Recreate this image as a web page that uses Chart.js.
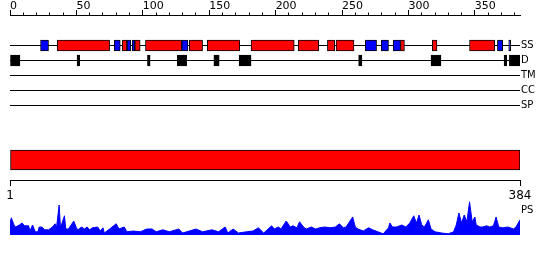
<!DOCTYPE html>
<html>
<head>
<meta charset="utf-8">
<title>Protein features</title>
<script src="https://cdn.jsdelivr.net/npm/chart.js@4"></script>
<style>
  html, body { margin: 0; padding: 0; background: #fff; }
  #features { display: block; }
</style>
</head>
<body>
<canvas id="features" width="550" height="260"></canvas>
<script>
'use strict';

// sequence and tracks
var seqLength = 384;
var tracks = ['SS', 'D', 'TM', 'CC', 'SP'];
var bottomTicks = [1, 384];

// secondary structure (residue ranges)
var helixStart = [35.5, 84.5, 94, 102, 135, 148.5, 181.5, 217, 239, 245.5, 294, 318, 346];
var helixEnd   = [75, 88, 98, 129.3, 145, 173, 214, 232.5, 244.5, 259, 297, 321.5, 365];
var strandStart = [23, 78.5, 88, 92, 129.3, 267.5, 279.5, 288.5, 367, 375.5];
var strandEnd   = [29, 83, 91, 94, 134, 276, 285, 294, 371, 377];

// disorder (residue ranges)
var disorderStart = [0, 50.5, 103.5, 126, 153.5, 172.5, 262.5, 317, 372, 376];
var disorderEnd   = [7.5, 52.5, 105.5, 133, 157.5, 181.5, 265, 324.5, 374, 384];

// PS profile
var psPos = [0, 1, 3, 4, 6, 7, 9, 11, 12, 14,
    15, 17, 19, 21, 22, 24, 26, 29, 32, 34,
    35, 37, 38, 41, 42, 44, 48, 50, 51, 54,
    56, 58, 60, 62, 66, 68, 70, 71, 75, 78,
    80, 82, 86, 88, 93, 98, 103, 107, 110, 115,
    120, 127, 130, 135, 140, 145, 152, 157, 162, 164,
    168, 172, 178, 183, 187, 191, 197, 199, 202, 204,
    208, 211, 213, 216, 218, 221, 223, 227, 230, 233,
    237, 241, 245, 248, 251, 253, 258, 260, 262, 266,
    270, 273, 277, 281, 285, 286, 288, 291, 295, 298,
    301, 304, 306, 308, 310, 312, 315, 317, 320, 325,
    330, 334, 336, 338, 340, 342, 344, 346, 348, 350,
    351, 354, 356, 359, 361, 364, 366, 368, 371, 375,
    379, 381, 384];
var psVal = [0.30, 0.43, 0.25, 0.20, 0.23, 0.25, 0.30, 0.23, 0.23, 0.23,
    0.10, 0.25, 0.08, 0.08, 0.20, 0.20, 0.13, 0.13, 0.20, 0.28,
    0.18, 0.75, 0.18, 0.48, 0.15, 0.15, 0.35, 0.18, 0.13, 0.20,
    0.15, 0.20, 0.13, 0.18, 0.20, 0.10, 0.18, 0.05, 0.15, 0.23,
    0.28, 0.15, 0.20, 0.08, 0.10, 0.08, 0.15, 0.15, 0.08, 0.13,
    0.08, 0.15, 0.05, 0.10, 0.15, 0.08, 0.13, 0.08, 0.20, 0.05,
    0.15, 0.05, 0.08, 0.10, 0.18, 0.05, 0.23, 0.15, 0.20, 0.15,
    0.35, 0.20, 0.23, 0.18, 0.33, 0.20, 0.15, 0.20, 0.15, 0.18,
    0.20, 0.18, 0.20, 0.28, 0.18, 0.20, 0.45, 0.20, 0.15, 0.10,
    0.18, 0.13, 0.08, 0.03, 0.18, 0.30, 0.20, 0.20, 0.25, 0.20,
    0.30, 0.48, 0.30, 0.50, 0.25, 0.20, 0.38, 0.15, 0.08, 0.05,
    0.03, 0.08, 0.25, 0.55, 0.30, 0.50, 0.33, 0.83, 0.33, 0.45,
    0.25, 0.20, 0.20, 0.23, 0.20, 0.23, 0.45, 0.20, 0.18, 0.20,
    0.15, 0.20, 0.38];

var FeatureChart = {
    colors: {
        helix: '#ff0000',
        strand: '#0000ff',
        disorder: '#000000',
        domain: '#ff0000',
        ps: '#0000ff',
        line: '#000000'
    },

    font: 'DejaVu Sans',

    // layout in canvas pixels (y scale maps value == pixel)
    trackY: function(i) { return 45.5 + i * 15; },
    domainY: 160,
    axisY: 180,
    psLabelY: 210,

    init: function() {
        var ctx = document.getElementById('features').getContext('2d');
        new Chart(ctx, {
            type: 'bar',
            data: { datasets: this.buildDatasets() },
            options: this.buildOptions()
        });
    },

    ranges: function(starts, ends, y) {
        return starts.map(function(s, i) {
            return { x: [s, ends[i]], y: y };
        });
    },

    boxes: function(label, data, color, thickness) {
        return {
            type: 'bar',
            label: label,
            indexAxis: 'y',
            xAxisID: 'x',
            yAxisID: 'y',
            data: data,
            backgroundColor: color,
            borderColor: '#000000',
            borderWidth: 1,
            borderSkipped: false,
            barThickness: thickness,
            grouped: false,
            order: 1
        };
    },

    buildDatasets: function() {
        var self = this;
        var sets = tracks.map(function(name, i) {
            var y = self.trackY(i);
            return {
                type: 'line',
                label: name,
                xAxisID: 'x',
                yAxisID: 'y',
                data: [{ x: 0, y: y }, { x: seqLength, y: y }],
                borderColor: self.colors.line,
                borderWidth: 1,
                pointRadius: 0,
                fill: false,
                order: 3
            };
        });

        sets.push(this.boxes('Helix', this.ranges(helixStart, helixEnd, this.trackY(0)), this.colors.helix, 11));
        sets.push(this.boxes('Strand', this.ranges(strandStart, strandEnd, this.trackY(0)), this.colors.strand, 11));
        sets.push(this.boxes('Disorder', this.ranges(disorderStart, disorderEnd, this.trackY(1)), this.colors.disorder, 11));
        sets.push(this.boxes('Sequence', [{ x: [0, seqLength], y: this.domainY }], this.colors.domain, 20));

        sets.push({
            type: 'line',
            label: 'PS',
            xAxisID: 'x',
            yAxisID: 'yPS',
            data: psPos.map(function(p, i) { return { x: p, y: psVal[i] }; }),
            borderColor: this.colors.ps,
            borderWidth: 1,
            backgroundColor: this.colors.ps,
            fill: 'origin',
            pointRadius: 0,
            tension: 0,
            order: 2
        });
        return sets;
    },

    buildOptions: function() {
        var self = this;
        var sideLabels = tracks.concat(['PS']);
        var sideValues = tracks.map(function(t, i) { return self.trackY(i); }).concat([this.psLabelY]);
        var noPad = function(scale) {
            scale.paddingTop = 0;
            scale.paddingBottom = 0;
            scale.paddingLeft = 0;
            scale.paddingRight = 0;
        };

        return {
            responsive: false,
            animation: false,
            events: [],
            layout: { padding: { left: 10, right: 0, top: 0, bottom: 0 } },
            plugins: {
                legend: { display: false },
                tooltip: { enabled: false }
            },
            scales: {
                x: {
                    type: 'linear',
                    position: 'top',
                    offset: false,
                    min: 0,
                    max: seqLength,
                    afterFit: function(scale) { noPad(scale); scale.height = 15; },
                    border: { color: '#000000', width: 1 },
                    grid: {
                        offset: false,
                        drawOnChartArea: false,
                        tickLength: 5,
                        tickColor: '#000000',
                        tickBorderDash: function(c) {
                            return c.tick && c.tick.value % 50 !== 0 ? [0, 2.5, 3, 10] : [];
                        }
                    },
                    ticks: {
                        stepSize: 10,
                        includeBounds: false,
                        autoSkip: false,
                        maxRotation: 0,
                        align: 'start',
                        padding: -3,
                        color: '#000000',
                        font: { family: self.font, size: 11 },
                        callback: function(v) { return v % 50 === 0 ? String(v) : ''; }
                    }
                },
                x2: {
                    type: 'linear',
                    position: { y: self.axisY },
                    offset: false,
                    min: 1,
                    max: seqLength,
                    afterBuildTicks: function(scale) {
                        scale.ticks = bottomTicks.map(function(v) { return { value: v }; });
                    },
                    afterFit: noPad,
                    border: { color: '#000000', width: 1 },
                    grid: { offset: false, drawOnChartArea: false, tickLength: 5, tickColor: '#000000' },
                    ticks: {
                        autoSkip: false,
                        maxRotation: 0,
                        padding: 4,
                        color: '#000000',
                        font: { family: self.font, size: 12 },
                        callback: function(v) { return String(v); }
                    }
                },
                y: {
                    type: 'linear',
                    position: 'right',
                    offset: false,
                    min: 15,
                    max: 260,
                    reverse: true,
                    afterBuildTicks: function(scale) {
                        scale.ticks = sideValues.map(function(v) { return { value: v }; });
                    },
                    afterFit: function(scale) { noPad(scale); scale.width = 30; },
                    grid: { display: false, drawTicks: false, offset: false },
                    border: { display: false },
                    ticks: {
                        padding: 1,
                        color: '#000000',
                        font: { family: self.font, size: 10 },
                        callback: function(v, i) { return sideLabels[i]; }
                    }
                },
                yPS: {
                    type: 'linear',
                    display: false,
                    offset: false,
                    min: -0.625,
                    max: 5.5
                }
            }
        };
    }
};

FeatureChart.init();
</script>
</body>
</html>
